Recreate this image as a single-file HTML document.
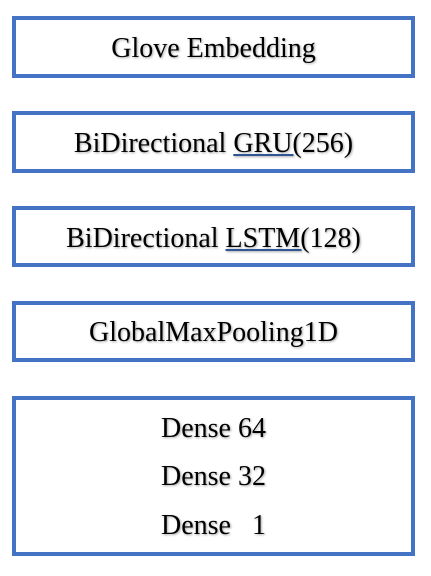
<html><head><style>
body{margin:0;width:431px;height:576px;background:#fff;position:relative;overflow:hidden;font-family:"Liberation Serif",serif;}
.b{position:absolute;left:12px;width:395px;border:4px solid #4472C4;box-sizing:content-box;}
.t{position:absolute;left:0;width:100%;text-align:center;font-size:28px;color:#000;line-height:32px;text-shadow:1px 1px 2px rgba(0,0,0,0.35);}
u{text-decoration-color:#2F5597;}
</style></head><body>
<div class="b" style="top:16px;height:54px"><div class="t" style="top:13px">Glove Embedding</div></div>
<div class="b" style="top:111px;height:54px"><div class="t" style="top:13px">BiDirectional <u>GRU(</u>256)</div></div>
<div class="b" style="top:206px;height:53px"><div class="t" style="top:13px">BiDirectional <u>LSTM(</u>128)</div></div>
<div class="b" style="top:301px;height:53px"><div class="t" style="top:12px">GlobalMaxPooling1D</div></div>
<div class="b" style="top:396px;height:152px">
<div class="t" style="top:13px">Dense 64</div>
<div class="t" style="top:61px">Dense 32</div>
<div class="t" style="top:110px">Dense&nbsp;&nbsp;&nbsp;1</div>
</div>
</body></html>
